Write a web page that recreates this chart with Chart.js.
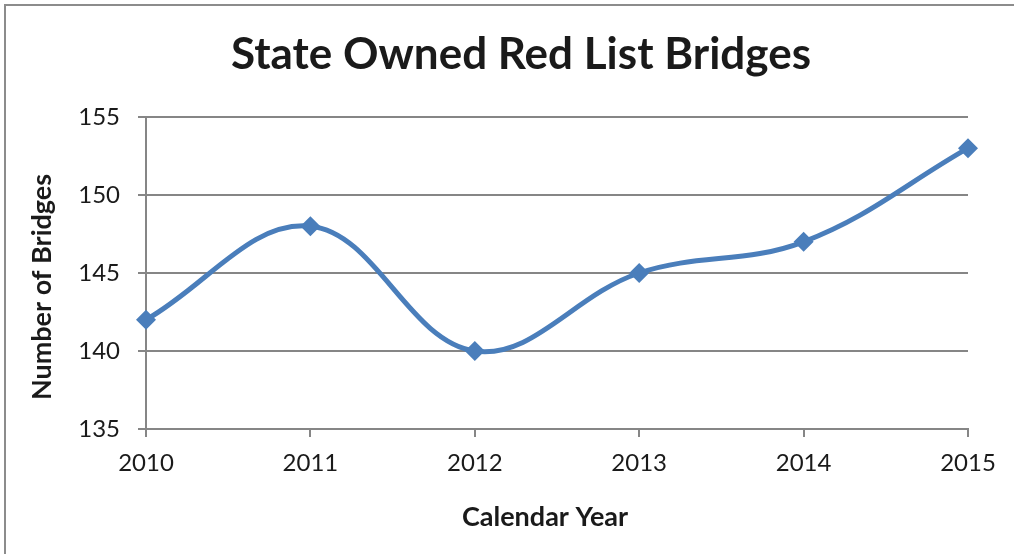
<!DOCTYPE html>
<html>
<head>
<meta charset="utf-8">
<script src="https://cdn.jsdelivr.net/npm/chart.js@4"></script>
<style>
  html, body { margin: 0; padding: 0; background: #fff; overflow: hidden; }
  #wrap { position: absolute; left: 0; top: 0; width: 1042px; height: 554px; }
</style>
</head>
<body>
<div id="wrap"><canvas id="c" width="1042" height="554"></canvas></div>
<script>
const categories = ['2010', '2011', '2012', '2013', '2014', '2015'];
const bridges = [142, 148, 140, 145, 147, 153];
const yTicks = [135, 140, 145, 150, 155];
const chartTitle = 'State Owned Red List Bridges';
const xTitle = 'Calendar Year';
const yTitle = 'Number of Bridges';

const FONT = 'Lato, "Open Sans", sans-serif';
const GRID = '#868686';
const TEXT = '#1a1a1a';

const borderPlugin = {
  id: 'outerBorder',
  beforeDraw(chart) {
    const ctx = chart.ctx;
    ctx.save();
    ctx.strokeStyle = '#8c8c8c';
    ctx.lineWidth = 2;
    ctx.beginPath();
    ctx.moveTo(5, 560);
    ctx.lineTo(5, 5);
    ctx.lineTo(1042, 5);
    ctx.stroke();
    ctx.restore();
  }
};

// centre the chart title and the axis titles as in the original
const titleShift = {
  id: 'titleShift',
  afterLayout(chart) {
    const tb = chart.titleBlock;
    if (tb) { tb.left = 74; tb.right = chart.chartArea.right; tb.width = tb.right - tb.left; }
    const shift = (scale, dx, dy) => {
      if (scale._shiftWrapped) return;
      const orig = scale.drawTitle.bind(scale);
      scale.drawTitle = function () {
        const s = { l: this.left, r: this.right, t: this.top, b: this.bottom };
        this.left += dx; this.right += dx; this.top += dy; this.bottom += dy;
        orig();
        this.left = s.l; this.right = s.r; this.top = s.t; this.bottom = s.b;
      };
      scale._shiftWrapped = true;
    };
    shift(chart.scales.x, -12, 0);
    shift(chart.scales.y, 0, 14);
  }
};

new Chart(document.getElementById('c'), {
  type: 'line',
  data: {
    labels: categories,
    datasets: [{
      data: bridges,
      borderColor: '#4a7ebb',
      backgroundColor: '#4a7ebb',
      borderWidth: 5,
      tension: 0.38,
      pointStyle: 'rectRot',
      pointRadius: 10,
      pointBorderWidth: 0,
      fill: false
    }]
  },
  options: {
    responsive: false,
    animation: false,
    devicePixelRatio: 1,
    layout: { padding: { left: 5, right: 74, top: 0, bottom: 0 } },
    plugins: {
      legend: { display: false },
      tooltip: { enabled: false },
      title: {
        display: true,
        text: chartTitle,
        color: TEXT,
        font: { family: FONT, size: 44, weight: 'bold', lineHeight: 1.2 },
        padding: { top: 28, bottom: 36.2 }
      }
    },
    scales: {
      x: {
        type: 'category',
        offset: false,
        afterFit(s) { s.height = 125; },
        grid: { drawOnChartArea: false, drawTicks: true, tickLength: 8, color: GRID, lineWidth: 2 },
        border: { display: true, color: GRID, width: 2 },
        ticks: { color: TEXT, font: { family: FONT, size: 24 }, padding: 12, maxRotation: 0 },
        title: {
          display: true, text: xTitle, color: TEXT,
          font: { family: FONT, size: 27, weight: 'bold' },
          padding: { top: 10, bottom: 20.8 }
        }
      },
      y: {
        min: 135, max: 155,
        afterFit(s) { s.width = 141; },
        afterBuildTicks(s) { s.ticks = yTicks.map(v => ({ value: v })); },
        grid: { drawOnChartArea: true, drawTicks: true, tickLength: 8, color: GRID, lineWidth: 2 },
        border: { display: true, color: GRID, width: 2 },
        ticks: { color: TEXT, font: { family: FONT, size: 24 }, padding: 18 },
        title: {
          display: true, text: yTitle, color: TEXT,
          font: { family: FONT, size: 27, weight: 'bold' },
          padding: { top: 20.8, bottom: 0 }
        }
      }
    }
  },
  plugins: [borderPlugin, titleShift]
});
</script>
</body>
</html>
